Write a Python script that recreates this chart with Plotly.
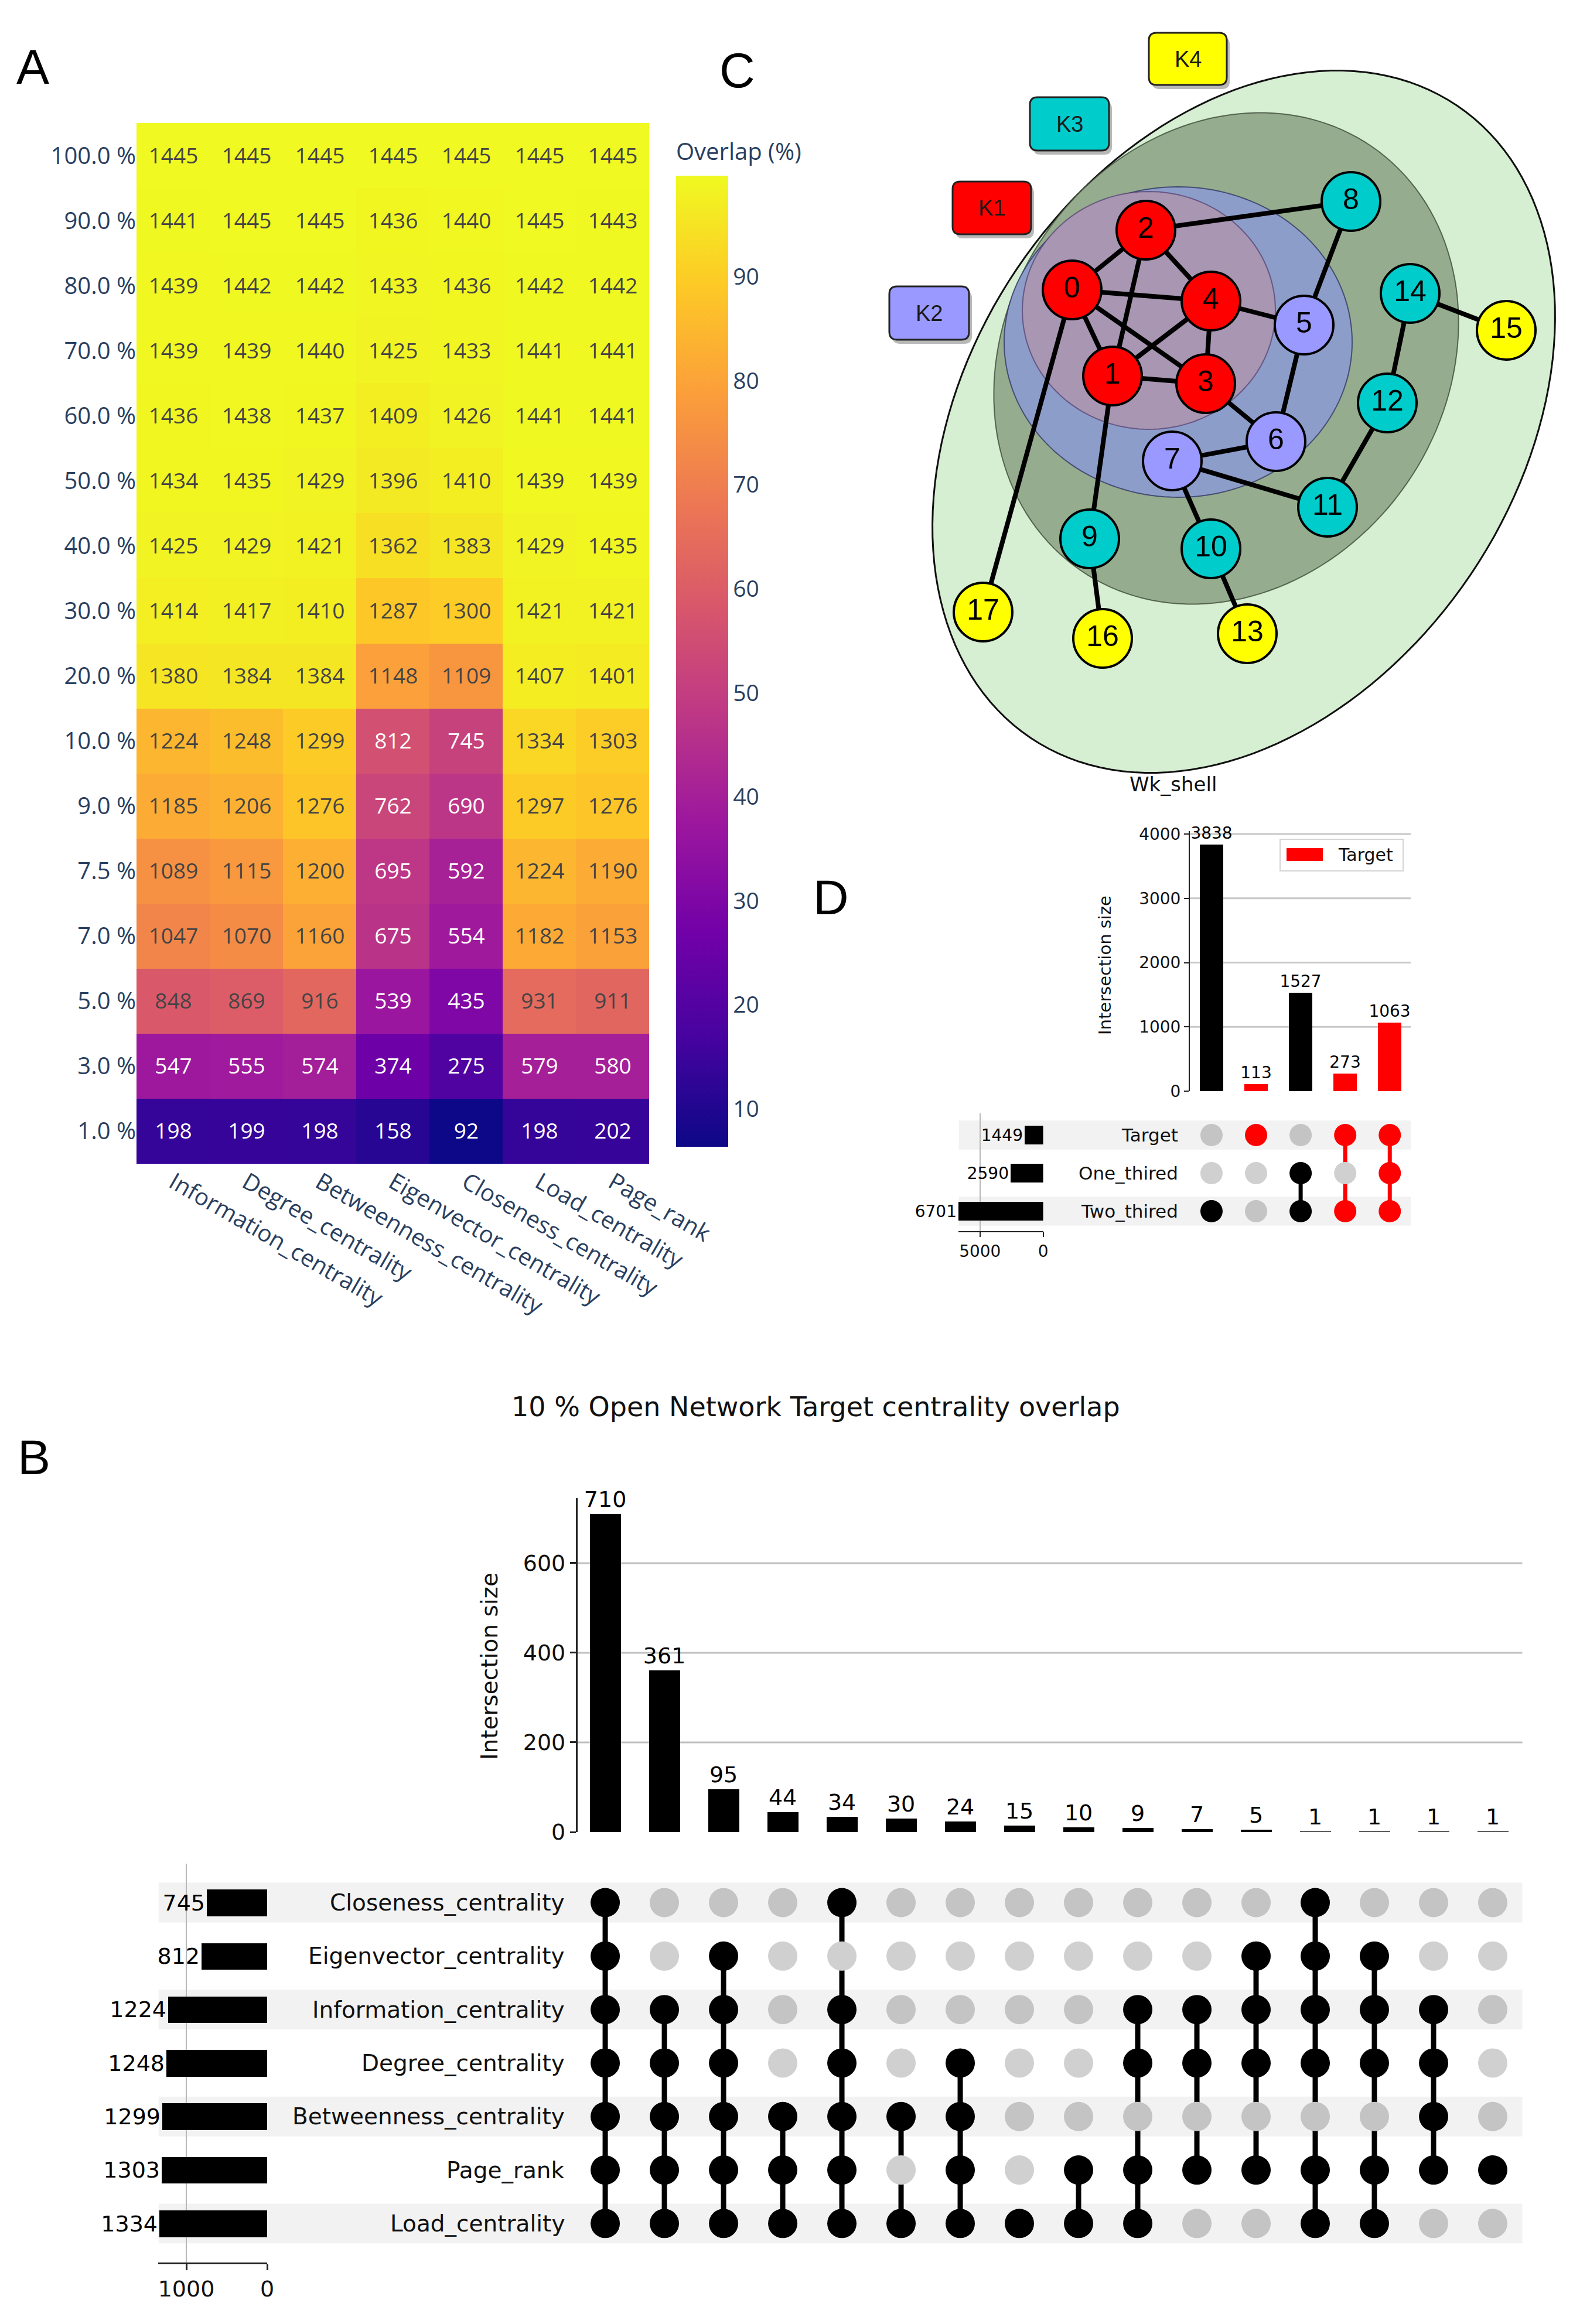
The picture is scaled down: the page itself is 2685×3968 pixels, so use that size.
import numpy as np
import plotly.graph_objects as go

W, H = 2685, 3968

# ---------------- Panel A : heatmap data ----------------
centralities_A = ["Information_centrality", "Degree_centrality", "Betweenness_centrality",
                  "Eigenvector_centrality", "Closeness_centrality", "Load_centrality", "Page_rank"]
thresholds_A = ["100.0 %", "90.0 %", "80.0 %", "70.0 %", "60.0 %", "50.0 %", "40.0 %", "30.0 %",
                "20.0 %", "10.0 %", "9.0 %", "7.5 %", "7.0 %", "5.0 %", "3.0 %", "1.0 %"]
row_100 = [1445, 1445, 1445, 1445, 1445, 1445, 1445]
row_90 = [1441, 1445, 1445, 1436, 1440, 1445, 1443]
row_80 = [1439, 1442, 1442, 1433, 1436, 1442, 1442]
row_70 = [1439, 1439, 1440, 1425, 1433, 1441, 1441]
row_60 = [1436, 1438, 1437, 1409, 1426, 1441, 1441]
row_50 = [1434, 1435, 1429, 1396, 1410, 1439, 1439]
row_40 = [1425, 1429, 1421, 1362, 1383, 1429, 1435]
row_30 = [1414, 1417, 1410, 1287, 1300, 1421, 1421]
row_20 = [1380, 1384, 1384, 1148, 1109, 1407, 1401]
row_10 = [1224, 1248, 1299, 812, 745, 1334, 1303]
row_9 = [1185, 1206, 1276, 762, 690, 1297, 1276]
row_7_5 = [1089, 1115, 1200, 695, 592, 1224, 1190]
row_7 = [1047, 1070, 1160, 675, 554, 1182, 1153]
row_5 = [848, 869, 916, 539, 435, 931, 911]
row_3 = [547, 555, 574, 374, 275, 579, 580]
row_1 = [198, 199, 198, 158, 92, 198, 202]
total_targets = 1449
colorbar_ticks_A = [10, 20, 30, 40, 50, 60, 70, 80, 90]

# ---------------- Panel C : k-shell network ----------------
node_ids = list(range(18))
node_x = [1827, 1896, 1953, 2055, 2064, 2223, 2175, 1998, 2303, 1857, 2064, 2263, 2365, 2126, 2404, 2568, 1879, 1675]
node_y = [487, 634, 385, 647, 506, 547, 746, 779, 336, 912, 929, 858, 680, 1074, 493, 556, 1082, 1037]
node_shell = ["K1", "K1", "K1", "K1", "K1", "K2", "K2", "K2", "K3", "K3", "K3", "K3", "K3", "K4", "K3", "K4", "K4", "K4"]
edges = [(0, 2), (0, 4), (0, 1), (0, 3), (0, 17), (2, 1), (2, 4), (2, 8), (4, 1), (4, 3), (4, 5),
         (1, 3), (1, 9), (3, 6), (5, 8), (5, 6), (6, 7), (7, 11), (7, 10), (9, 16), (10, 13),
         (11, 12), (12, 14), (14, 15)]
shell_names = ["K4", "K3", "K1", "K2"]
shell_colors = {"K1": "#ff0000", "K2": "#9999ff", "K3": "#00cccc", "K4": "#ffff00"}

# ---------------- Panel D : Wk_shell upset ----------------
sets_D = ["Target", "One_thired", "Two_thired"]
set_sizes_D = [1449, 2590, 6701]
inter_sizes_D = [3838, 113, 1527, 273, 1063]
members_D = [[0, 0, 1], [1, 0, 0], [0, 1, 1], [1, 0, 1], [1, 1, 1]]
yticks_D = [0, 1000, 2000, 3000, 4000]
set_ticks_D = [0, 5000]

# ---------------- Panel B : 10 % centrality upset ----------------
sets_B = ["Closeness_centrality", "Eigenvector_centrality", "Information_centrality",
          "Degree_centrality", "Betweenness_centrality", "Page_rank", "Load_centrality"]
set_sizes_B = [745, 812, 1224, 1248, 1299, 1303, 1334]
inter_sizes_B = [710, 361, 95, 44, 34, 30, 24, 15, 10, 9, 7, 5, 1, 1, 1, 1]
members_B = [
    [1, 1, 1, 1, 1, 1, 1],
    [0, 0, 1, 1, 1, 1, 1],
    [0, 1, 1, 1, 1, 1, 1],
    [0, 0, 0, 0, 1, 1, 1],
    [1, 0, 1, 1, 1, 1, 1],
    [0, 0, 0, 0, 1, 0, 1],
    [0, 0, 0, 1, 1, 1, 1],
    [0, 0, 0, 0, 0, 0, 1],
    [0, 0, 0, 0, 0, 1, 1],
    [0, 0, 1, 1, 0, 1, 1],
    [0, 0, 1, 1, 0, 1, 0],
    [0, 1, 1, 1, 0, 1, 0],
    [1, 1, 1, 1, 0, 1, 1],
    [0, 1, 1, 1, 0, 1, 1],
    [0, 0, 1, 1, 1, 1, 0],
    [0, 0, 0, 0, 0, 1, 0],
]
yticks_B = [0, 200, 400, 600]
set_ticks_B = [0, 1000]


# ---------------- helpers ----------------
def px(x):
    return x / W


def py(y):
    return 1 - y / H


def dom_x(a, b):
    return [a / W, b / W]


def dom_y(top, bottom):
    return [1 - bottom / H, 1 - top / H]


def ellipse_path(cx, cy, a, b, theta_deg, n=160):
    th = np.radians(theta_deg)
    t = np.linspace(0, 2 * np.pi, n, endpoint=False)
    xs = cx + a * np.cos(t) * np.cos(th) + b * np.sin(t) * np.sin(th)
    ys = cy - a * np.cos(t) * np.sin(th) + b * np.sin(t) * np.cos(th)
    pts = [f"{x:.1f},{y:.1f}" for x, y in zip(xs, ys)]
    return "M" + " L".join(pts) + " Z"


def rounded_rect(x0, y0, x1, y1, r):
    return (f"M{x0 + r},{y0} L{x1 - r},{y0} Q{x1},{y0} {x1},{y0 + r} L{x1},{y1 - r} "
            f"Q{x1},{y1} {x1 - r},{y1} L{x0 + r},{y1} Q{x0},{y1} {x0},{y1 - r} "
            f"L{x0},{y0 + r} Q{x0},{y0} {x0 + r},{y0} Z")


def note(x, y, text, size, family, xref="paper", yref="paper", xanchor="center", angle=0, color="#111111"):
    return dict(x=x, y=y, xref=xref, yref=yref, text=text, showarrow=False, xanchor=xanchor,
                yanchor="middle", textangle=angle, font=dict(family=family, size=size, color=color))


PLOTLY_TXT = "#2a3f5f"
MPL_FONT = "DejaVu Sans"
shapes = []
annotations = []
fig = go.Figure()

# =============== Panel A : heatmap ===============
counts_A = [row_100, row_90, row_80, row_70, row_60, row_50, row_40, row_30, row_20,
            row_10, row_9, row_7_5, row_7, row_5, row_3, row_1]
z_A = [[c / total_targets * 100 for c in row] for row in counts_A]
fig.add_trace(go.Heatmap(
    z=z_A, x=centralities_A, y=thresholds_A, text=counts_A, texttemplate="%{text}",
    textfont=dict(family="Open Sans", size=37),
    colorscale="Plasma", xaxis="x", yaxis="y",
    colorbar=dict(x=1146 / W, xanchor="left", xpad=0, y=py(232), yanchor="top", ypad=0,
                  len=(1950 - 232) / H, lenmode="fraction", thickness=89, thicknessmode="pixels",
                  outlinewidth=0, tickvals=colorbar_ticks_A,
                  tickfont=dict(family="Open Sans", size=39, color=PLOTLY_TXT),
                  title=dict(text="Overlap (%)", side="top",
                             font=dict(family="Open Sans", size=40, color=PLOTLY_TXT))),
))

# =============== Panel C : network ===============
ell_specs = [
    (ellipse_path(2120, 712, 651, 467, 56), "#d6eed2", "#111111", 3),
    (ellipse_path(2090, 604, 439, 375, 55.5), "#96ac8e", "rgba(60,75,55,0.8)", 2),
    (ellipse_path(2008, 576, 297, 265, 0), "#8d9dc9", "rgba(50,55,100,0.8)", 2),
    (ellipse_path(1958, 522, 216, 203, 0), "#a896b2", "rgba(80,60,110,0.7)", 2),
]
for path, fill, line, lw in ell_specs:
    shapes.append(dict(type="path", path=path, xref="x2", yref="y2", fillcolor=fill,
                       line=dict(color=line, width=lw), layer="below"))

box_specs = {"K4": (1958, 48, 2091, 137), "K3": (1755, 158, 1890, 249),
             "K1": (1623, 302, 1757, 392), "K2": (1515, 481, 1651, 572)}
for name in shell_names:
    x0, y0, x1, y1 = box_specs[name]
    shapes.append(dict(type="path", path=rounded_rect(x0 + 5, y0 + 7, x1 + 5, y1 + 7, 13),
                       xref="x2", yref="y2", fillcolor="rgba(0,0,0,0.28)", line=dict(width=0)))
    shapes.append(dict(type="path", path=rounded_rect(x0, y0, x1, y1, 13), xref="x2", yref="y2",
                       fillcolor=shell_colors[name], line=dict(color="#222222", width=3)))
    annotations.append(note((x0 + x1) / 2, (y0 + y1) / 2, name, 38, "Liberation Sans",
                            xref="x2", yref="y2", color="#1a1a1a"))

ex, ey = [], []
for a, b in edges:
    ex += [node_x[a], node_x[b], None]
    ey += [node_y[a], node_y[b], None]
fig.add_trace(go.Scatter(x=ex, y=ey, mode="lines", line=dict(color="black", width=8),
                         xaxis="x2", yaxis="y2", hoverinfo="skip"))
fig.add_trace(go.Scatter(x=node_x, y=node_y, mode="markers+text", text=[str(i) for i in node_ids],
                         textposition="middle center",
                         textfont=dict(family="Liberation Sans", size=50, color="black"),
                         marker=dict(size=100, color=[shell_colors[s] for s in node_shell],
                                     line=dict(color="black", width=4)),
                         xaxis="x2", yaxis="y2", hoverinfo="skip"))


# =============== UpSet helper ===============
def add_upset(sets, set_sizes, inter_sizes, members, colors, ax_bar, ax_mat, ax_set,
              dot_size, line_w, gray_shade, gray_plain, shade_px_x, shade_half, font_size, bar_w):
    nrow = len(sets)
    ncol = len(inter_sizes)
    cols = list(range(ncol))
    xb, yb = ax_bar
    xm, ym = ax_mat
    xs, ys = ax_set
    for r in range(0, nrow, 2):
        shapes.append(dict(type="rect", xref="paper", yref=ym, x0=px(shade_px_x[0]), x1=px(shade_px_x[1]),
                           y0=r - shade_half, y1=r + shade_half, fillcolor="#f2f2f2",
                           line=dict(width=0), layer="below"))
    fig.add_trace(go.Bar(x=cols, y=inter_sizes, marker=dict(color=colors, line=dict(width=0)), width=bar_w,
                         text=[str(v) for v in inter_sizes], textposition="outside", cliponaxis=False,
                         constraintext="none", textfont=dict(family=MPL_FONT, size=font_size, color="black"),
                         xaxis=xb, yaxis=yb, hoverinfo="skip"))
    for c in cols:
        rows_in = [r for r in range(nrow) if members[c][r]]
        if len(rows_in) >= 2:
            fig.add_trace(go.Scatter(x=[c, c], y=[min(rows_in), max(rows_in)], mode="lines",
                                     line=dict(color=colors[c], width=line_w),
                                     xaxis=xm, yaxis=ym, hoverinfo="skip"))
    dx_, dy_, dc_ = [], [], []
    for c in cols:
        for r in range(nrow):
            dx_.append(c)
            dy_.append(r)
            if members[c][r]:
                dc_.append(colors[c])
            else:
                dc_.append(gray_shade if r % 2 == 0 else gray_plain)
    fig.add_trace(go.Scatter(x=dx_, y=dy_, mode="markers", marker=dict(size=dot_size, color=dc_, line=dict(width=0)),
                             xaxis=xm, yaxis=ym, hoverinfo="skip"))
    fig.add_trace(go.Bar(x=set_sizes, y=list(range(nrow)), orientation="h", width=0.5,
                         marker=dict(color="black", line=dict(width=0)),
                         text=[str(v) for v in set_sizes], textposition="outside", cliponaxis=False,
                         constraintext="none", textfont=dict(family=MPL_FONT, size=font_size, color="black"),
                         xaxis=xs, yaxis=ys, hoverinfo="skip"))


# =============== Panel D ===============
colors_D = ["#ff0000" if m[0] else "black" for m in members_D]
add_upset(sets_D, set_sizes_D, inter_sizes_D, members_D, colors_D,
          ("x3", "y3"), ("x4", "y4"), ("x5", "y5"),
          dot_size=38, line_w=7, gray_shade="#c4c4c4", gray_plain="#d0d0d0",
          shade_px_x=(1628.6, 2400), shade_half=0.38, font_size=28, bar_w=0.53)
for r, name in enumerate(sets_D):
    annotations.append(note(px(2005), r, name, 31, MPL_FONT, yref="y4", xanchor="right"))
for v in yticks_D[1:]:
    shapes.append(dict(type="line", xref="x3 domain", yref="y3", x0=0, x1=1, y0=v, y1=v,
                       line=dict(color="#c8c8c8", width=3), layer="below"))
shapes.append(dict(type="rect", xref="paper", yref="paper", x0=px(2177), x1=px(2387), y0=py(1479), y1=py(1425),
                   fillcolor="white", line=dict(color="#d4d4d4", width=2)))
shapes.append(dict(type="rect", xref="paper", yref="paper", x0=px(2188), x1=px(2250), y0=py(1462), y1=py(1440),
                   fillcolor="#ff0000", line=dict(width=0)))
annotations.append(note(px(2274), py(1451), "Target", 30, MPL_FONT, xanchor="left"))
annotations.append(note(px(1994), py(1331), "Wk_shell", 34, MPL_FONT))
annotations.append(note(px(1878), py(1640), "Intersection size", 29, MPL_FONT, angle=-90))

# =============== Panel B ===============
colors_B = ["black"] * len(inter_sizes_B)
add_upset(sets_B, set_sizes_B, inter_sizes_B, members_B, colors_B,
          ("x6", "y6"), ("x7", "y7"), ("x8", "y8"),
          dot_size=50, line_w=9, gray_shade="#c4c4c4", gray_plain="#d0d0d0",
          shade_px_x=(262.7, 2590.5), shade_half=0.372, font_size=38, bar_w=0.53)
for r, name in enumerate(sets_B):
    annotations.append(note(px(958), r, name, 39, MPL_FONT, yref="y7", xanchor="right"))
for v in yticks_B[1:]:
    shapes.append(dict(type="line", xref="x6 domain", yref="y6", x0=0, x1=1, y0=v, y1=v,
                       line=dict(color="#c0c0c0", width=3), layer="below"))
annotations.append(note(px(1385), py(2394), "10 % Open Network Target centrality overlap", 46, MPL_FONT))
annotations.append(note(px(827), py(2837), "Intersection size", 39, MPL_FONT, angle=-90))

# panel letters
for letter, (lx, ly) in {"A": (48, 106), "C": (1250, 112), "D": (1411, 1524), "B": (50, 2480)}.items():
    annotations.append(note(px(lx), py(ly), letter, 84, "Liberation Sans", color="black"))

# =============== axes ===============
hidden = dict(visible=False, showgrid=False, zeroline=False, fixedrange=True)
mpl_tick = dict(family=MPL_FONT, color="#111111")

layout_axes = dict(
    xaxis=dict(domain=dom_x(225, 1100), anchor="y", type="category", tickangle=30, ticks="",
               tickfont=dict(family="Open Sans", size=40, color=PLOTLY_TXT), showgrid=False, zeroline=False),
    yaxis=dict(domain=dom_y(202, 1979), anchor="x", type="category", autorange="reversed", ticks="",
               tickfont=dict(family="Open Sans", size=40, color=PLOTLY_TXT), showgrid=False, zeroline=False),
    xaxis2=dict(domain=dom_x(1450, 2685), anchor="y2", range=[1455, 2690], **hidden),
    yaxis2=dict(domain=dom_y(0, 1330), anchor="x2", range=[1330, 0], **hidden),
    xaxis3=dict(domain=dom_x(2023, 2400), anchor="y3", range=[-0.486, 4.47], **hidden),
    yaxis3=dict(domain=dom_y(1411, 1855), anchor="x3", range=[0, 4046], tickvals=yticks_D,
                ticks="outside", ticklen=8, tickwidth=2, tickcolor="#222222", showline=True,
                linecolor="#222222", linewidth=2, showgrid=False, zeroline=False,
                tickfont=dict(size=28, **mpl_tick)),
    xaxis4=dict(domain=dom_x(2023, 2400), anchor="y4", range=[-0.486, 4.47], **hidden),
    yaxis4=dict(domain=dom_y(1893, 2094), anchor="x4", range=[2.523, -0.569], **hidden),
    xaxis5=dict(domain=dom_x(1628, 1772.6), anchor="y5", range=[6707, 0], tickvals=set_ticks_D,
                ticks="outside", ticklen=8, tickwidth=2, tickcolor="#222222", showline=True,
                linecolor="#222222", linewidth=2, showgrid=True, gridcolor="#b8b8b8", gridwidth=2,
                zeroline=False, tickfont=dict(size=28, **mpl_tick)),
    yaxis5=dict(domain=dom_y(1893, 2094), anchor="x5", range=[2.523, -0.569], **hidden),
    xaxis6=dict(domain=dom_x(977.6, 2590.5), anchor="y6", range=[-0.47, 15.5], **hidden),
    yaxis6=dict(domain=dom_y(2550, 3120), anchor="x6", range=[0, 745], tickvals=yticks_B,
                ticks="outside", ticklen=10, tickwidth=2.5, tickcolor="#222222", showline=True,
                linecolor="#222222", linewidth=2.5, showgrid=False, zeroline=False,
                tickfont=dict(size=38, **mpl_tick)),
    xaxis7=dict(domain=dom_x(977.6, 2590.5), anchor="y7", range=[-0.47, 15.5], **hidden),
    yaxis7=dict(domain=dom_y(3173.5, 3855), anchor="x7", range=[6.73, -0.734], **hidden),
    xaxis8=dict(domain=dom_x(262, 448), anchor="y8", range=[1348, 0], tickvals=set_ticks_B,
                ticks="outside", ticklen=10, tickwidth=2.5, tickcolor="#222222", showline=True,
                linecolor="#222222", linewidth=2.5, showgrid=True, gridcolor="#b8b8b8", gridwidth=2,
                zeroline=False, tickfont=dict(size=38, **mpl_tick)),
    yaxis8=dict(domain=dom_y(3173.5, 3855), anchor="x8", range=[6.73, -0.734], **hidden),
)

fig.update_layout(
    width=W, height=H, margin=dict(l=0, r=0, t=0, b=0), autosize=False,
    paper_bgcolor="white", plot_bgcolor="rgba(0,0,0,0)", showlegend=False,
    template="none", bargap=0,
    shapes=shapes, annotations=annotations,
    font=dict(family="Open Sans", color=PLOTLY_TXT),
    **layout_axes,
)

fig.write_html("out.html")
